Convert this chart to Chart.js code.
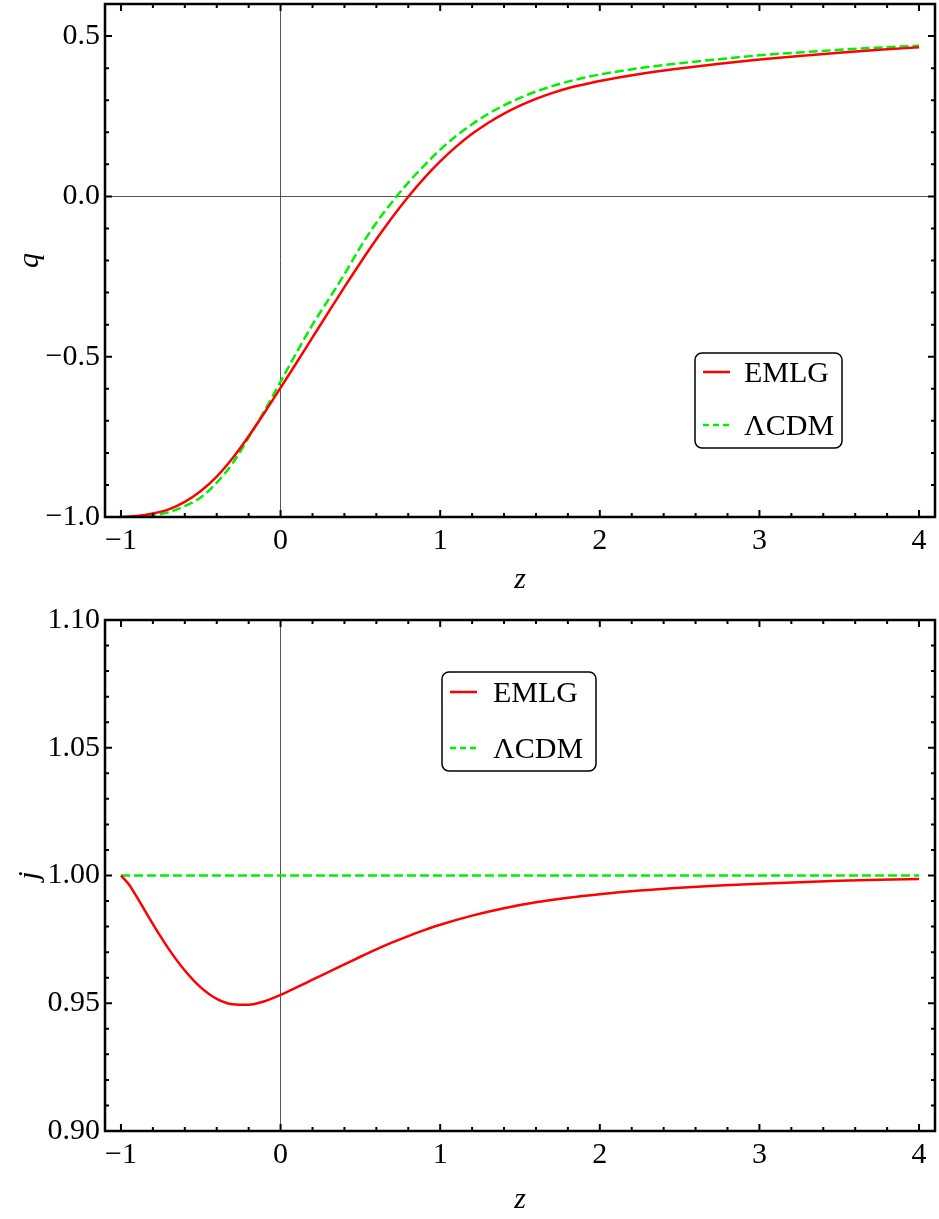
<!DOCTYPE html>
<html>
<head>
<meta charset="utf-8">
<script src="https://cdn.jsdelivr.net/npm/chart.js@4.4.0/dist/chart.umd.min.js"></script>
<style>
    body { margin: 0; background: #fff; }
    #wrap { position: relative; width: 939px; height: 1219px; }
    .box { position: absolute; left: 0; width: 939px; }
</style>
</head>
<body>
<div id="wrap">
    <div class="box" style="top:0;height:600px"><canvas id="qChart" width="939" height="600"></canvas></div>
    <div class="box" style="top:600px;height:619px"><canvas id="jChart" width="939" height="619"></canvas></div>
</div>
<script>
const serif = '"Liberation Serif", "Times New Roman", serif';

// deceleration parameter q(z)
const zQ = [-1, -0.9, -0.8, -0.7, -0.6, -0.5, -0.4, -0.3, -0.2, -0.1, 0, 0.1, 0.2, 0.3, 0.4, 0.5, 0.6, 0.7, 0.8, 0.9,
    1.0, 1.1, 1.2, 1.3, 1.4, 1.5, 1.6, 1.7, 1.8, 1.9, 2.0, 2.25, 2.5, 2.75, 3.0, 3.25, 3.5, 3.75, 4.0];
const qEMLG = [-1.0, -0.997, -0.989, -0.976, -0.953, -0.919, -0.874, -0.816, -0.748, -0.674, -0.597, -0.519, -0.44,
    -0.361, -0.283, -0.207, -0.134, -0.065, -0.001, 0.057, 0.109, 0.155, 0.195, 0.229, 0.258, 0.283, 0.304, 0.322, 0.337,
    0.349, 0.36, 0.382, 0.399, 0.414, 0.427, 0.438, 0.448, 0.457, 0.465];
const qLCDM = [-1.0, -0.999, -0.995, -0.985, -0.966, -0.939, -0.893, -0.832, -0.752, -0.668, -0.578, -0.487, -0.40,
    -0.322, -0.243, -0.158, -0.082, -0.017, 0.043, 0.096, 0.146, 0.188, 0.225, 0.257, 0.284, 0.307, 0.327, 0.344, 0.358,
    0.37, 0.38, 0.40, 0.415, 0.428, 0.44, 0.449, 0.457, 0.464, 0.47];

// jerk parameter j(z)
const zJ = [-1, -0.95, -0.9, -0.8, -0.7, -0.6, -0.5, -0.4, -0.3, -0.2, -0.1, 0, 0.1, 0.2, 0.3, 0.4, 0.5, 0.6, 0.7, 0.8,
    0.9, 1.0, 1.2, 1.4, 1.6, 1.8, 2.0, 2.25, 2.5, 2.75, 3.0, 3.25, 3.5, 3.75, 4.0];
const jEMLG = [1.0, 0.9965, 0.9915, 0.981, 0.9712, 0.9628, 0.9562, 0.9517, 0.9496, 0.9494, 0.9508, 0.9533, 0.9562,
    0.9592, 0.9622, 0.9652, 0.9682, 0.9711, 0.9738, 0.9763, 0.9786, 0.9807, 0.9843, 0.9872, 0.9895, 0.9913, 0.9927,
    0.9941, 0.9952, 0.9961, 0.9968, 0.9974, 0.9979, 0.9983, 0.9986];
const jLCDM = [1, 1, 1, 1, 1, 1, 1, 1, 1, 1, 1, 1, 1, 1, 1, 1, 1, 1, 1, 1, 1, 1, 1, 1, 1, 1, 1, 1, 1, 1, 1, 1, 1, 1, 1];

const seriesNames = ['EMLG', '\u039BCDM'];
const zTicks = [-1, 0, 1, 2, 3, 4];
const zTickLabels = ['\u22121', '0', '1', '2', '3', '4'];
const qTicks = [-1, -0.5, 0, 0.5];
const qTickLabels = ['\u22121.0', '\u22120.5', '0.0', '0.5'];
const jTicks = [0.9, 0.95, 1.0, 1.05, 1.1];
const jTickLabels = ['0.90', '0.95', '1.00', '1.05', '1.10'];

const RED = '#ff0000';
const GREEN = '#00f000';

// frame, inward ticks on all four sides and the boxed legend
const framePlugin = {
    id: 'frame',
    afterDatasetsDraw(chart, args, opts) {
        const {ctx, chartArea: a, scales: {x, y}} = chart;
        ctx.save();
        ctx.strokeStyle = '#000';
        ctx.lineWidth = 2;
        const marks = (scale, step, majors, horiz) => {
            const k0 = Math.ceil(scale.min / step - 1e-9), k1 = Math.floor(scale.max / step + 1e-9);
            for (let k = k0; k <= k1; k++) {
                const v = k * step;
                const len = majors.some(m => Math.abs(m - v) < step / 10) ? 7 : 4;
                const p = scale.getPixelForValue(v);
                ctx.beginPath();
                if (horiz) {
                    ctx.moveTo(p, a.bottom); ctx.lineTo(p, a.bottom - len);
                    ctx.moveTo(p, a.top); ctx.lineTo(p, a.top + len);
                } else {
                    ctx.moveTo(a.left, p); ctx.lineTo(a.left + len, p);
                    ctx.moveTo(a.right, p); ctx.lineTo(a.right - len, p);
                }
                ctx.stroke();
            }
        };
        marks(x, opts.xMinor, zTicks, true);
        marks(y, opts.yMinor, opts.yMajors, false);
        ctx.lineWidth = 2.5;
        ctx.strokeRect(a.left, a.top, a.right - a.left, a.bottom - a.top);

        // legend
        const L = opts.legend;
        ctx.beginPath();
        ctx.roundRect(L.x, L.y, L.w, L.h, 7);
        ctx.fillStyle = '#fff';
        ctx.fill();
        ctx.lineWidth = 1.5;
        ctx.stroke();
        chart.data.datasets.forEach((ds, i) => {
            const ry = L.y + L.rows[i];
            ctx.beginPath();
            ctx.strokeStyle = ds.borderColor;
            ctx.lineWidth = 2.5;
            ctx.setLineDash(i === 1 ? [6, 4] : []);
            ctx.moveTo(L.x + 8, ry);
            ctx.lineTo(L.x + 35, ry);
            ctx.stroke();
            ctx.setLineDash([]);
            ctx.fillStyle = '#000';
            ctx.font = '30px ' + serif;
            ctx.textBaseline = 'alphabetic';
            ctx.fillText(ds.label, L.x + L.tx, ry + 10);
        });
        ctx.restore();
    }
};

function zAxis(height, titlePad) {
    return {
        type: 'linear',
        min: -1.1,
        max: 4.1,
        afterBuildTicks: s => { s.ticks = zTicks.map(v => ({value: v})); },
        afterFit: s => { s.height = height; s.paddingLeft = 0; s.paddingRight = 0; },
        ticks: {
            font: {family: serif, size: 30},
            color: '#000',
            padding: 6,
            maxRotation: 0,
            autoSkip: false,
            callback: v => zTickLabels[zTicks.indexOf(v)],
        },
        grid: {
            drawTicks: false,
            lineWidth: 1,
            color: c => (c.tick && c.tick.value === 0 ? '#555' : 'rgba(0,0,0,0)'),
        },
        border: {display: false},
        title: {
            display: true,
            text: 'z',
            font: {family: serif, size: 30, style: 'italic'},
            color: '#000',
            padding: {top: 0, bottom: titlePad},
        },
    };
}

function valueAxis(min, max, ticks, labels, name, showZero) {
    return {
        type: 'linear',
        min: min,
        max: max,
        afterBuildTicks: s => { s.ticks = ticks.map(v => ({value: v})); },
        afterFit: s => { s.width = 105; s.paddingTop = 0; s.paddingBottom = 0; },
        ticks: {
            font: {family: serif, size: 30},
            color: '#000',
            padding: 5,
            autoSkip: false,
            callback: v => labels[ticks.indexOf(v)],
        },
        grid: {
            drawTicks: false,
            lineWidth: 1,
            color: c => (showZero && c.tick && c.tick.value === 0 ? '#555' : 'rgba(0,0,0,0)'),
        },
        border: {display: false},
        title: {
            display: true,
            text: name,
            font: {family: serif, size: 30, style: 'italic'},
            color: '#000',
            padding: {top: 12, bottom: 0},
        },
    };
}

function lineSets(zs, a, b) {
    return [
        {
            label: seriesNames[0],
            data: zs.map((z, i) => ({x: z, y: a[i]})),
            borderColor: RED,
            borderWidth: 2.5,
            pointRadius: 0,
            cubicInterpolationMode: 'monotone',
            fill: false,
        },
        {
            label: seriesNames[1],
            data: zs.map((z, i) => ({x: z, y: b[i]})),
            borderColor: GREEN,
            borderWidth: 2.5,
            borderDash: [9, 4],
            pointRadius: 0,
            cubicInterpolationMode: 'monotone',
            fill: false,
        },
    ];
}

function makeChart(id, datasets, yAxis, xAxis, padTop, frameOpts) {
    return new Chart(document.getElementById(id).getContext('2d'), {
        type: 'line',
        data: {datasets: datasets},
        options: {
            responsive: false,
            animation: false,
            parsing: false,
            layout: {padding: {top: padTop, right: 4, left: 0, bottom: 0}},
            scales: {x: xAxis, y: yAxis},
            plugins: {legend: {display: false}, tooltip: {enabled: false}, frame: frameOpts},
        },
        plugins: [framePlugin],
    });
}

makeChart('qChart', lineSets(zQ, qEMLG, qLCDM),
    valueAxis(-1.0, 0.6, qTicks, qTickLabels, 'q', true), zAxis(83, 2), 4,
    {xMinor: 0.2, yMinor: 0.1, yMajors: qTicks,
        legend: {x: 695, y: 353, w: 147, h: 95, rows: [19, 72], tx: 49}});

makeChart('jChart', lineSets(zJ, jEMLG, jLCDM),
    valueAxis(0.9, 1.1, jTicks, jTickLabels, 'j', false), zAxis(88, 1), 20,
    {xMinor: 0.2, yMinor: 0.01, yMajors: jTicks,
        legend: {x: 442, y: 72, w: 154, h: 99, rows: [20, 76], tx: 51}});
</script>
</body>
</html>
